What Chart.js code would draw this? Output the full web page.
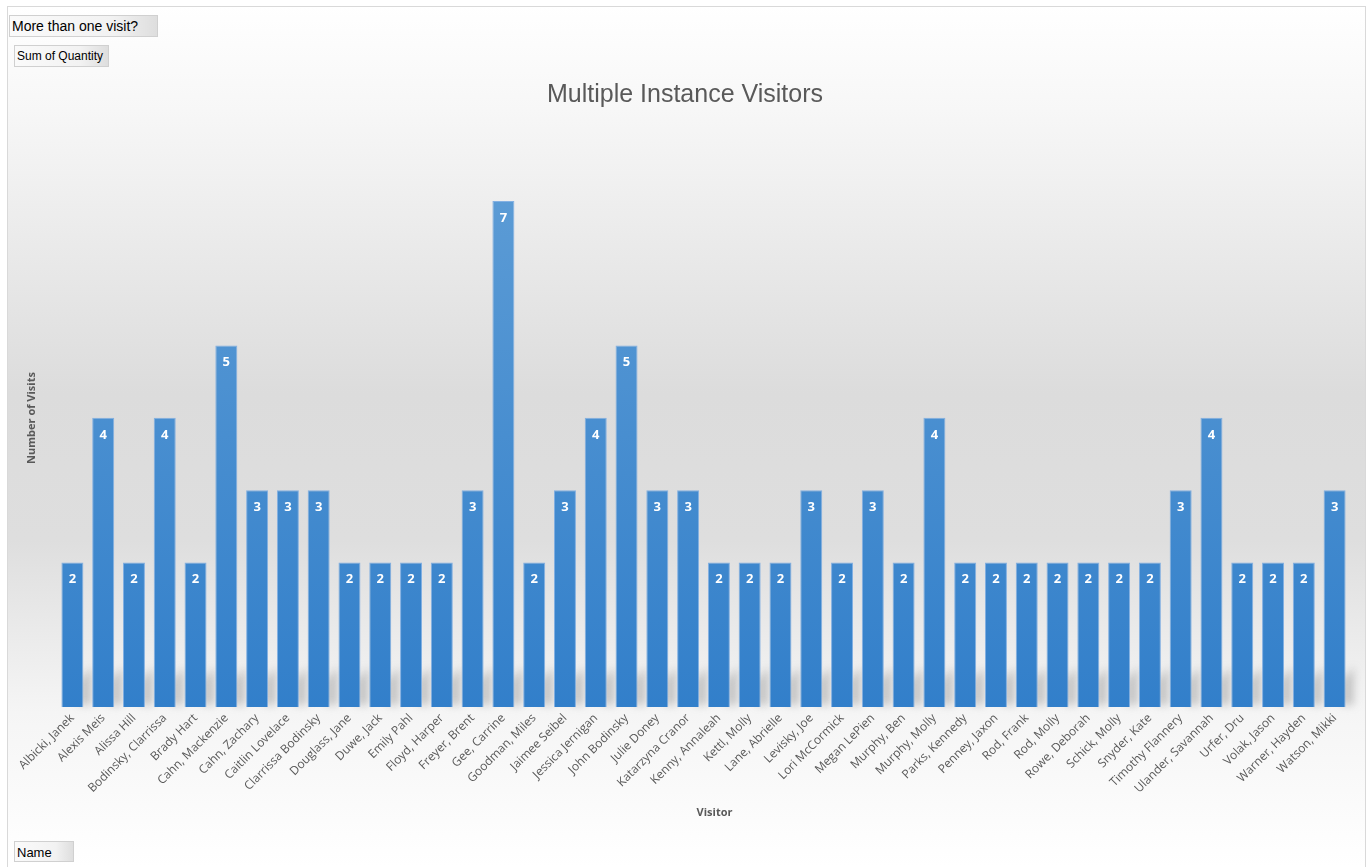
<!DOCTYPE html>
<html>
<head>
<meta charset="utf-8">
<script src="https://cdn.jsdelivr.net/npm/chart.js@4/dist/chart.umd.min.js"></script>
<style>
  html, body { margin: 0; padding: 0; background: #ffffff; }
  #wrap { position: relative; width: 1371px; height: 867px; overflow: hidden; }
  #c { position: absolute; left: 0; top: 0; }
  .btn {
    position: absolute;
    font-family: "Liberation Sans", Arial, sans-serif;
    color: #000;
    border: 1px solid #d0d0d0;
    background: linear-gradient(to right, #fafafa 0%, #f2f2f2 70%, #dedede 100%);
    box-sizing: border-box;
    white-space: nowrap;
    line-height: 1;
  }
</style>
</head>
<body>
<div id="wrap">
  <canvas id="c" width="1371" height="867"></canvas>
  <div class="btn" style="left:9px;top:15px;width:149px;height:22px;font-size:14px;padding:3px 0 0 2px;">More than one visit?</div>
  <div class="btn" style="left:14px;top:45px;width:95px;height:22px;font-size:12px;padding:4px 0 0 2px;">Sum of Quantity</div>
  <div class="btn" style="left:14px;top:841px;width:60px;height:21px;font-size:13px;padding:4px 0 0 2px;">Name</div>
</div>
<script>
const categories = [
  "Albicki, Janek", "Alexis Meis", "Alissa Hill", "Bodinsky, Clarrissa", "Brady Hart",
  "Cahn, Mackenzie", "Cahn, Zachary", "Caitlin Lovelace", "Clarrissa Bodinsky", "Douglass, Jane",
  "Duwe, Jack", "Emily Pahl", "Floyd, Harper", "Freyer, Brent", "Gee, Carrine",
  "Goodman, Miles", "Jaimee Seibel", "Jessica Jernigan", "John Bodinsky", "Julie Doney",
  "Katarzyna Cranor", "Kenny, Annaleah", "Kettl, Molly", "Lane, Abrielle", "Levisky, Joe",
  "Lori McCormick", "Megan LePien", "Murphy, Ben", "Murphy, Molly", "Parks, Kennedy",
  "Penney, Jaxon", "Rod, Frank", "Rod, Molly", "Rowe, Deborah", "Schick, Molly",
  "Snyder, Kate", "Timothy Flannery", "Ulander, Savannah", "Urfer, Dru", "Volak, Jason",
  "Warner, Hayden", "Watson, Mikki"
];
const visits = [
  2, 4, 2, 4, 2,
  5, 3, 3, 3, 2,
  2, 2, 2, 3, 7,
  2, 3, 4, 5, 3,
  3, 2, 2, 2, 3,
  2, 3, 2, 4, 2,
  2, 2, 2, 2, 2,
  2, 3, 4, 2, 2,
  2, 3
];
const chartTitle = "Multiple Instance Visitors";
const yTitle = "Number of Visits";
const xTitle = "Visitor";
const seriesName = "Total";

const textColor = "#595959";

const backgroundPlugin = {
  id: "bgPlugin",
  beforeDraw(chart) {
    const ctx = chart.ctx;
    const w = chart.width, h = chart.height;
    ctx.save();
    const g = ctx.createLinearGradient(0, 6, 0, h);
    g.addColorStop(0, "#ffffff");
    g.addColorStop(0.12, "#f7f7f7");
    g.addColorStop(0.45, "#dcdcdc");
    g.addColorStop(0.62, "#dedede");
    g.addColorStop(0.82, "#f5f5f5");
    g.addColorStop(1, "#ffffff");
    ctx.fillStyle = g;
    ctx.fillRect(7, 6, w - 12, h - 6);
    ctx.strokeStyle = "#d9d9d9";
    ctx.lineWidth = 1;
    ctx.strokeRect(7.5, 6.5, w - 13, h + 5);
    ctx.restore();
  },
  beforeDatasetsDraw(chart) {
    // soft diagonal shadow behind each bar base
    const ctx = chart.ctx;
    const meta = chart.getDatasetMeta(0);
    ctx.save();
    ctx.filter = "blur(4px)";
    ctx.fillStyle = "rgba(110,110,110,0.35)";
    meta.data.forEach((bar) => {
      const half = bar.width / 2;
      const x0 = bar.x + half;
      const yb = bar.base;
      ctx.beginPath();
      ctx.moveTo(x0 - 4, yb - 2);
      ctx.lineTo(x0 + 8, yb - 2);
      ctx.lineTo(x0 + 8, yb - 40);
      ctx.lineTo(x0 - 4, yb - 26);
      ctx.closePath();
      ctx.fill();
    });
    ctx.filter = "none";
    ctx.restore();
  }
};

const labelPlugin = {
  id: "barLabels",
  afterDatasetsDraw(chart) {
    const ctx = chart.ctx;
    const meta = chart.getDatasetMeta(0);
    ctx.save();
    ctx.fillStyle = "#ffffff";
    ctx.font = "bold 13px 'Open Sans', 'DejaVu Sans', sans-serif";
    ctx.textAlign = "center";
    ctx.textBaseline = "middle";
    meta.data.forEach((bar, i) => {
      ctx.fillText(String(visits[i]), bar.x, bar.y + 17);
    });
    ctx.restore();
  }
};

const axisTitlePlugin = {
  id: "axisTitles",
  afterDraw(chart) {
    const ctx = chart.ctx;
    const area = chart.chartArea;
    ctx.save();
    ctx.fillStyle = textColor;
    ctx.font = "bold 11px 'Open Sans', sans-serif";
    ctx.textAlign = "center";
    ctx.textBaseline = "middle";
    // x title, a little right of the plot centre as in the source chart
    ctx.fillText(xTitle, (area.left + area.right) / 2 + 11, area.bottom + 106);
    // y title, rotated, placed above the plot centre as in the source chart
    ctx.translate(area.left - 25, (area.top + area.bottom) / 2 - 36);
    ctx.rotate(-Math.PI / 2);
    ctx.fillText(yTitle, 0, 0);
    ctx.restore();
  }
};

function barGradient(context) {
  const chart = context.chart;
  const area = chart.chartArea;
  if (!area) return "#4a90d9";
  const el = context.element;
  const top = el && isFinite(el.y) ? el.y : area.top;
  const bottom = area.bottom;
  const g = chart.ctx.createLinearGradient(0, top, 0, bottom);
  g.addColorStop(0, "#5b9bd5");
  g.addColorStop(1, "#327fca");
  return g;
}

new Chart(document.getElementById("c"), {
  type: "bar",
  data: {
    labels: categories,
    datasets: [{
      label: seriesName,
      data: visits,
      backgroundColor: barGradient,
      borderColor: "rgba(120,170,225,0.9)",
      borderWidth: 1,
      barPercentage: 0.714,
      categoryPercentage: 1.0
    }]
  },
  options: {
    responsive: false,
    animation: false,
    devicePixelRatio: 1,
    layout: { padding: { left: 20, right: 21, top: 70, bottom: 43 } },
    plugins: {
      legend: { display: false },
      tooltip: { enabled: false },
      title: {
        display: true,
        text: chartTitle,
        color: textColor,
        font: { family: "'Liberation Sans', Arial, sans-serif", size: 25, weight: "normal" },
        padding: { top: 10, bottom: 91 }
      }
    },
    scales: {
      x: {
        grid: { display: false, drawTicks: false },
        border: { display: false },
        ticks: {
          color: textColor,
          font: { family: "'Open Sans', sans-serif", size: 12 },
          minRotation: 45,
          maxRotation: 45,
          autoSkip: false,
          padding: 4
        },
        title: { display: false, text: xTitle },
        afterFit(scale) { scale.height = 117; }
      },
      y: {
        min: 0,
        max: 7,
        grid: { display: false, drawTicks: false },
        border: { display: false },
        ticks: { display: false },
        title: { display: false, text: yTitle },
        afterFit(scale) { scale.width = 37; }
      }
    }
  },
  plugins: [backgroundPlugin, labelPlugin, axisTitlePlugin]
});
</script>
</body>
</html>
